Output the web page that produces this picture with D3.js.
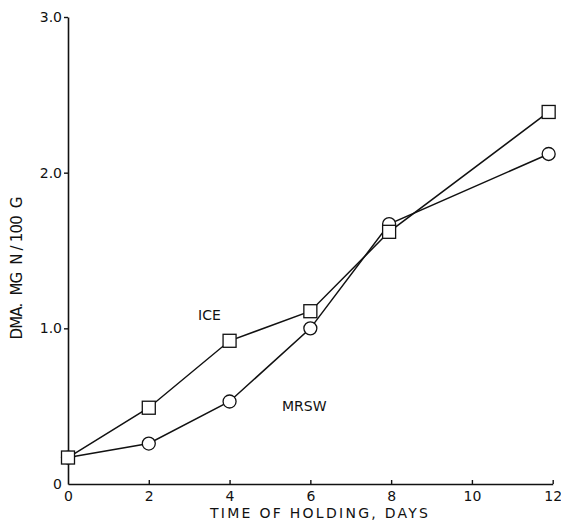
<!DOCTYPE html>
<html>
<head>
<meta charset="utf-8">
<script src="https://cdn.jsdelivr.net/npm/d3@7"></script>
<style>
  body { margin: 0; background: #fff; }
  text { font-family: "DejaVu Sans", sans-serif; fill: #111; }
</style>
</head>
<body>
<div id="chart"></div>
<script>
var days = [0, 2, 4, 6, 7.95, 11.9];
var ice = [0.17, 0.49, 0.92, 1.11, 1.62, 2.39];
var mrsw = [0.17, 0.26, 0.53, 1.00, 1.67, 2.12];
var xTicks = [0, 2, 4, 6, 8, 10, 12];
var yTicks = [0, 1, 2, 3];
var yTickLabels = ["0", "1.0", "2.0", "3.0"];

var width = 561, height = 523;
var svg = d3.select("#chart").append("svg")
  .attr("width", width)
  .attr("height", height);

var x = d3.scaleLinear().domain([0, 12]).range([68, 552.7]);
var y = d3.scaleLinear().domain([0, 3]).range([484, 17]);

// axes
var xAxis = svg.append("g")
  .attr("transform", "translate(0," + y(0) + ")")
  .call(d3.axisBottom(x).tickValues(xTicks).tickSizeInner(-4).tickSizeOuter(0).tickPadding(6)
    .tickFormat(d3.format("d")));
xAxis.selectAll("text").attr("font-size", 14).attr("dy", "0.75em")
  .attr("font-family", "DejaVu Sans");
xAxis.selectAll(".tick line").filter(function(d) { return d === 0; }).remove();

var yAxis = svg.append("g")
  .attr("transform", "translate(" + x(0) + ",0)")
  .call(d3.axisLeft(y).tickValues(yTicks).tickSizeInner(4).tickSizeOuter(0).tickPadding(2)
    .tickFormat(function(d, i) { return yTickLabels[i]; }));
yAxis.selectAll("text").attr("font-size", 14).attr("font-family", "DejaVu Sans");
yAxis.selectAll(".tick line").filter(function(d) { return d === 0; }).remove();

svg.selectAll(".domain").attr("stroke", "#111").attr("stroke-width", 1.6);
svg.selectAll(".tick line").attr("stroke", "#111").attr("stroke-width", 1.4);

// axis titles
svg.append("text")
  .attr("x", 319).attr("y", 518)
  .attr("text-anchor", "middle")
  .attr("font-size", 14)
  .attr("textLength", 218).attr("lengthAdjust", "spacing")
  .text("TIME OF HOLDING, DAYS");

svg.append("text")
  .attr("transform", "translate(22,268) rotate(-90)")
  .attr("text-anchor", "middle")
  .attr("font-size", 15)
  .attr("textLength", 143).attr("lengthAdjust", "spacing")
  .text("DMA.\u00a0\u00a0MG\u00a0\u00a0N\u00a0/\u00a0100\u00a0\u00a0G");

// lines
var line = d3.line()
  .x(function(d) { return x(d[0]); })
  .y(function(d) { return y(d[1]); });

var icePts = days.map(function(d, i) { return [d, ice[i]]; });
var mrswPts = days.map(function(d, i) { return [d, mrsw[i]]; });

[icePts, mrswPts].forEach(function(pts) {
  svg.append("path")
    .datum(pts)
    .attr("d", line)
    .attr("fill", "none")
    .attr("stroke", "#111")
    .attr("stroke-width", 1.5);
});

// markers
svg.selectAll("circle.mrsw")
  .data(mrswPts).enter().append("circle")
  .attr("class", "mrsw")
  .attr("cx", function(d) { return x(d[0]); })
  .attr("cy", function(d) { return y(d[1]); })
  .attr("r", 6.5)
  .attr("fill", "#fff")
  .attr("stroke", "#111")
  .attr("stroke-width", 1.3);

var sq = 13;
svg.selectAll("rect.ice")
  .data(icePts).enter().append("rect")
  .attr("class", "ice")
  .attr("x", function(d) { return x(d[0]) - sq / 2; })
  .attr("y", function(d) { return y(d[1]) - sq / 2; })
  .attr("width", sq).attr("height", sq)
  .attr("fill", "#fff")
  .attr("stroke", "#111")
  .attr("stroke-width", 1.3);

// series labels
svg.append("text")
  .attr("x", 198).attr("y", 320)
  .attr("font-size", 14)
  .text("ICE");
svg.append("text")
  .attr("x", 282).attr("y", 411)
  .attr("font-size", 14)
  .text("MRSW");
</script>
</body>
</html>
